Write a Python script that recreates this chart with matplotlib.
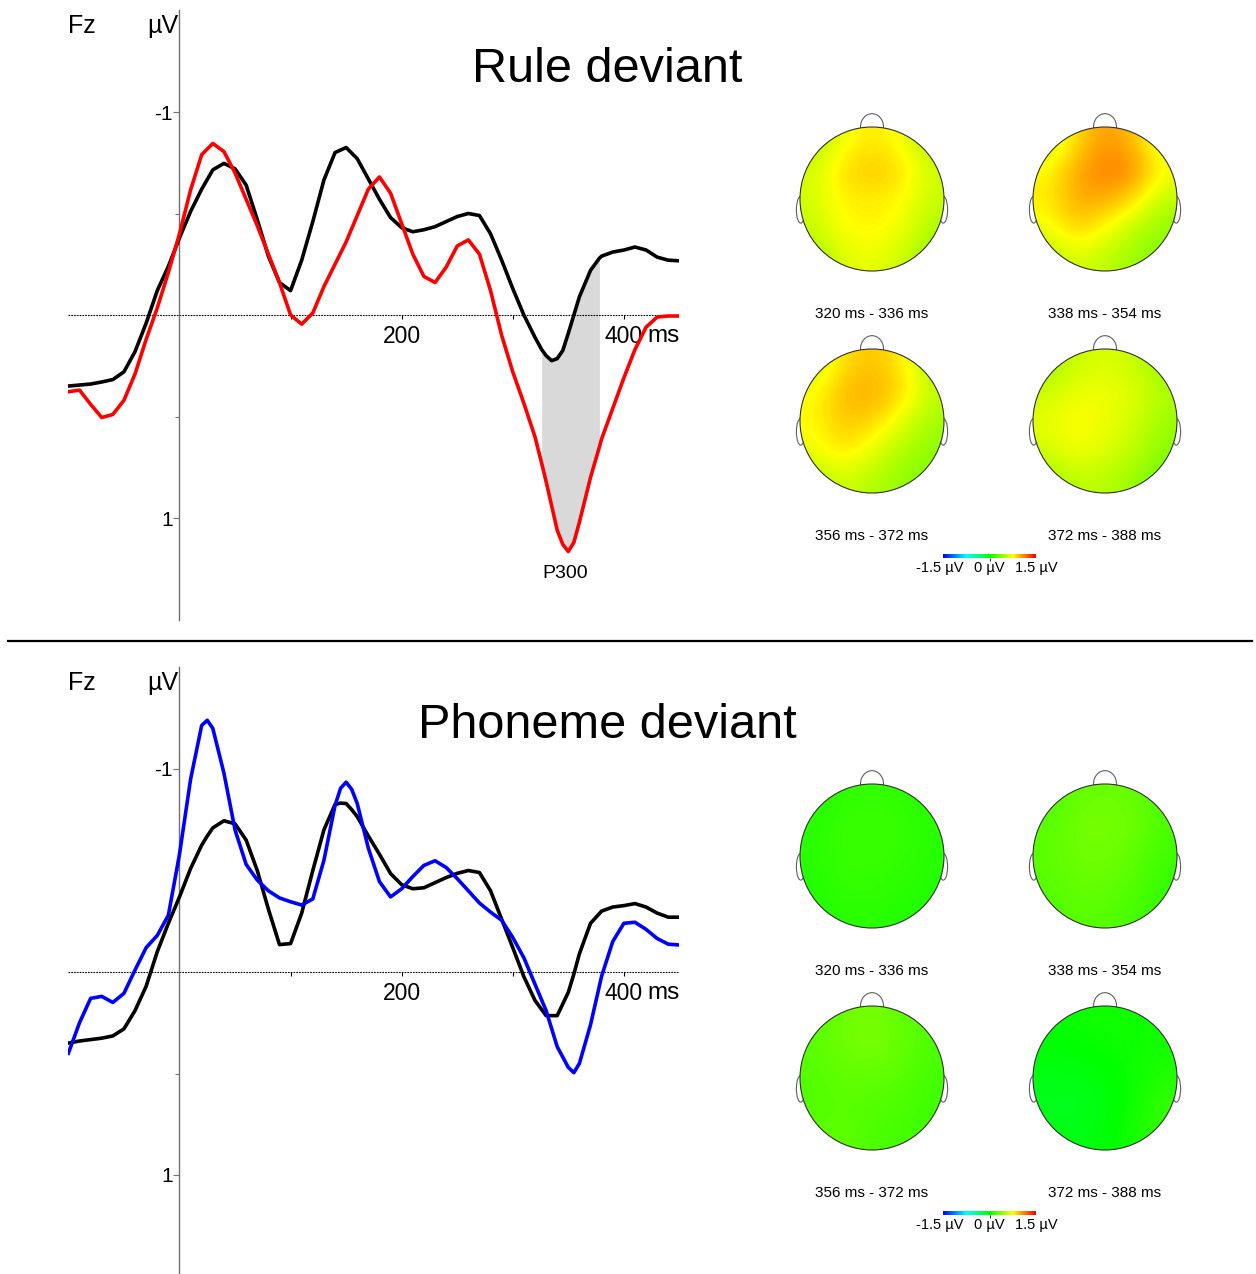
import numpy as np
import matplotlib
matplotlib.use('Agg')
import matplotlib.pyplot as plt
from matplotlib.colors import LinearSegmentedColormap, Normalize
from matplotlib.cm import ScalarMappable
from matplotlib.patches import Circle, Ellipse
from matplotlib.lines import Line2D

plt.rcParams['font.family'] = ['Liberation Sans', 'DejaVu Sans']

# ---- ERP data (ms, µV) ----
t_rule = [-100, -90, -80, -70, -60, -50, -40, -30, -20, -10, 0, 10, 20, 30, 40, 50,
          60, 70, 80, 90, 100, 110, 120, 130, 140, 150, 160, 170, 180, 190, 200,
          210, 220, 230, 240, 250, 260, 270, 280, 290, 300, 310, 320, 326, 330,
          335, 340, 345, 350, 355, 360, 370, 378, 380, 390, 400, 410, 420, 430,
          440, 450]
rule_standard = [0.35, 0.345, 0.34, 0.33, 0.318, 0.28, 0.18, 0.04, -0.12, -0.24,
                 -0.38, -0.51, -0.62, -0.715, -0.747, -0.72, -0.64, -0.47, -0.29,
                 -0.16, -0.12, -0.27, -0.46, -0.665, -0.80, -0.825, -0.77, -0.67,
                 -0.57, -0.48, -0.43, -0.41, -0.42, -0.435, -0.46, -0.485, -0.50,
                 -0.49, -0.40, -0.27, -0.13, 0.0, 0.11, 0.17, 0.20, 0.225, 0.215,
                 0.175, 0.09, 0.0, -0.09, -0.22, -0.28, -0.29, -0.31, -0.32,
                 -0.335, -0.32, -0.285, -0.27, -0.267]
rule_deviant = [0.378, 0.37, 0.44, 0.505, 0.49, 0.42, 0.29, 0.12, -0.035, -0.21,
                -0.40, -0.616, -0.79, -0.845, -0.805, -0.70, -0.57, -0.44, -0.30,
                -0.16, 0.0, 0.045, -0.01, -0.14, -0.25, -0.36, -0.49, -0.62, -0.68,
                -0.60, -0.45, -0.30, -0.19, -0.16, -0.235, -0.34, -0.37, -0.30,
                -0.12, 0.10, 0.28, 0.435, 0.60, 0.73, 0.82, 0.94, 1.06, 1.13, 1.165,
                1.12, 1.02, 0.80, 0.65, 0.61, 0.46, 0.31, 0.17, 0.06, 0.01, 0.005,
                0.005]

t_phon = [-100, -90, -80, -70, -60, -50, -40, -30, -20, -10, 0, 10, 20, 25, 30, 40,
          50, 60, 70, 80, 90, 100, 110, 120, 130, 140, 145, 150, 155, 160, 170,
          180, 190, 200, 210, 220, 230, 240, 250, 260, 270, 280, 290, 300, 310,
          320, 330, 340, 350, 355, 360, 370, 380, 390, 400, 410, 420, 430, 440, 450]
phon_standard = [0.35, 0.34, 0.333, 0.326, 0.315, 0.28, 0.19, 0.07, -0.10, -0.24,
                 -0.37, -0.51, -0.625, -0.67, -0.71, -0.745, -0.73, -0.65, -0.50,
                 -0.31, -0.135, -0.14, -0.29, -0.50, -0.70, -0.825, -0.832, -0.83,
                 -0.80, -0.765, -0.67, -0.58, -0.485, -0.43, -0.41, -0.415, -0.44,
                 -0.465, -0.486, -0.50, -0.49, -0.40, -0.26, -0.12, 0.023, 0.14,
                 0.215, 0.215, 0.10, 0.01, -0.09, -0.24, -0.30, -0.32, -0.327,
                 -0.337, -0.32, -0.29, -0.27, -0.27]
phon_deviant = [0.40, 0.25, 0.13, 0.12, 0.15, 0.105, -0.01, -0.12, -0.18, -0.28,
                -0.58, -0.95, -1.215, -1.24, -1.20, -0.98, -0.70, -0.53, -0.453,
                -0.40, -0.365, -0.346, -0.33, -0.36, -0.55, -0.82, -0.905, -0.935,
                -0.90, -0.83, -0.61, -0.445, -0.37, -0.41, -0.47, -0.525, -0.548,
                -0.515, -0.46, -0.40, -0.34, -0.295, -0.255, -0.17, -0.07, 0.06,
                0.19, 0.368, 0.47, 0.496, 0.45, 0.26, 0.02, -0.15, -0.24, -0.245,
                -0.21, -0.165, -0.137, -0.133]

p300_window = (326, 378)

# ---- topographic maps (µV, 5x5 grid, front row first) ----
topo_labels = ['320 ms - 336 ms', '338 ms - 354 ms', '356 ms - 372 ms', '372 ms - 388 ms']
rule_topos = [
    np.array([[0.50, 0.70, 0.82, 0.72, 0.50],
              [0.62, 0.86, 0.92, 0.86, 0.62],
              [0.62, 0.78, 0.80, 0.76, 0.58],
              [0.58, 0.76, 0.78, 0.72, 0.52],
              [0.45, 0.65, 0.70, 0.60, 0.42]]),
    np.array([[0.55, 0.85, 1.05, 0.95, 0.60],
              [0.75, 1.00, 1.15, 1.10, 0.75],
              [0.80, 1.00, 1.00, 0.85, 0.55],
              [0.70, 0.90, 0.75, 0.55, 0.42],
              [0.50, 0.65, 0.55, 0.45, 0.38]]),
    np.array([[0.55, 0.85, 0.92, 0.82, 0.50],
              [0.75, 0.95, 1.00, 0.88, 0.58],
              [0.75, 0.92, 0.88, 0.68, 0.48],
              [0.70, 0.85, 0.68, 0.52, 0.42],
              [0.50, 0.62, 0.52, 0.44, 0.36]]),
    np.array([[0.45, 0.60, 0.64, 0.60, 0.42],
              [0.60, 0.70, 0.70, 0.66, 0.52],
              [0.68, 0.76, 0.70, 0.62, 0.46],
              [0.62, 0.73, 0.66, 0.56, 0.40],
              [0.45, 0.56, 0.54, 0.44, 0.32]]),
]
phon_topos = [
    np.array([[0.10, 0.14, 0.15, 0.14, 0.10],
              [0.12, 0.16, 0.17, 0.16, 0.12],
              [0.12, 0.16, 0.16, 0.15, 0.11],
              [0.10, 0.15, 0.15, 0.13, 0.10],
              [0.08, 0.12, 0.12, 0.10, 0.08]]),
    np.array([[0.22, 0.30, 0.32, 0.30, 0.22],
              [0.26, 0.33, 0.35, 0.32, 0.22],
              [0.26, 0.32, 0.33, 0.28, 0.18],
              [0.25, 0.30, 0.30, 0.25, 0.15],
              [0.22, 0.26, 0.25, 0.20, 0.14]]),
    np.array([[0.25, 0.32, 0.35, 0.30, 0.22],
              [0.26, 0.33, 0.35, 0.30, 0.22],
              [0.24, 0.28, 0.28, 0.26, 0.20],
              [0.24, 0.26, 0.24, 0.22, 0.18],
              [0.26, 0.28, 0.22, 0.20, 0.18]]),
    np.array([[0.02, 0.04, 0.04, 0.05, 0.04],
              [-0.02, 0.00, 0.02, 0.04, 0.06],
              [-0.06, -0.06, -0.02, 0.03, 0.10],
              [-0.08, -0.09, -0.04, 0.04, 0.16],
              [-0.04, -0.06, -0.02, 0.06, 0.16]]),
]

W, H = 1256, 1274
fig = plt.figure(figsize=(W / 100, H / 100), dpi=100)


def fx(x):
    return x / W


def fy(y):
    return 1 - y / H


topo_cmap = LinearSegmentedColormap.from_list(
    'topo', [(0, '#0000ff'), (0.25, '#00ffff'), (0.5, '#00ff00'),
             (0.75, '#ffff00'), (1, '#ff0000')])
topo_norm = Normalize(-1.5, 1.5)


def erp_panel(top_px, t, std, dev, dev_color, title, shade=None, peak_label=None):
    zero_y = top_px + 305
    ax = fig.add_axes([fx(68.4), fy(zero_y + 304.5), 611 / W, 609 / H])
    ax.set_xlim(-100, 450)
    ax.set_ylim(1.5, -1.5)
    for s in ['top', 'right']:
        ax.spines[s].set_visible(False)
    ax.spines['left'].set_position(('data', 0))
    ax.spines['left'].set_color('#707070')
    ax.spines['left'].set_linewidth(1.0)
    ax.spines['bottom'].set_position(('data', 0))
    ax.spines['bottom'].set_visible(False)
    ax.axhline(0, color='black', lw=0.8, ls=(0, (1.5, 1)), zorder=1)

    ax.set_yticks([-1, 1])
    ax.set_yticklabels(['-1', '1'])
    ax.set_yticks([-0.5, 0.5], minor=True)
    ax.tick_params(axis='y', which='major', length=4, width=0.8, color='#707070',
                   labelsize=15, pad=1)
    ax.tick_params(axis='y', which='minor', length=3, width=0.8, color='#707070')
    ax.set_xticks([100, 200, 300, 400])
    ax.set_xticklabels(['', '200', '', '400'])
    ax.tick_params(axis='x', length=3, width=0.8, labelsize=16.5, pad=4)
    ax.annotate('ms', xy=(1, 0), xycoords=('axes fraction', 'data'),
                xytext=(0, -19.5), textcoords='offset points', ha='right',
                va='baseline', fontsize=17.5)

    if shade is not None:
        tt = np.array(t)
        mask = (tt >= shade[0]) & (tt <= shade[1])
        ax.fill_between(tt, std, dev, where=mask, color='#d9d9d9', lw=0, zorder=0)

    ax.plot(t, std, color='black', lw=2.6, zorder=3, solid_joinstyle='round')
    ax.plot(t, dev, color=dev_color, lw=2.6, zorder=4, solid_joinstyle='round')

    if peak_label is not None:
        ax.text(peak_label[0], peak_label[1], peak_label[2], ha='center',
                va='center', fontsize=14)

    fig.text(fx(68), fy(top_px + 16), 'Fz', ha='left', va='center', fontsize=18)
    fig.text(fx(178), fy(top_px + 16), 'µV', ha='right', va='center', fontsize=18)
    fig.text(fx(607), fy(top_px + 59), title, ha='center', va='center', fontsize=35)
    return ax


def head(cx, cy, grid):
    ax = fig.add_axes([fx(cx - 90), fy(cy + 90), 180 / W, 180 / H])
    ax.set_xlim(-1.25, 1.25)
    ax.set_ylim(-1.25, 1.25)
    ax.set_aspect('equal')
    ax.axis('off')
    for side in (-1, 1):
        ax.add_patch(Ellipse((side * 0.99, -0.15), 0.12, 0.37, facecolor='white',
                             edgecolor='#606060', lw=0.8, zorder=1))
    ax.add_patch(Ellipse((0, 1.0), 0.32, 0.37, facecolor='white',
                         edgecolor='#606060', lw=0.8, zorder=1))
    im = ax.imshow(grid, extent=(-1, 1, -1, 1), cmap=topo_cmap, norm=topo_norm,
                   interpolation='bicubic', origin='upper', zorder=2)
    clip = Circle((0, 0), 1.0, transform=ax.transData)
    im.set_clip_path(clip)
    ax.add_patch(Circle((0, 0), 1.0, facecolor='none', edgecolor='#303030',
                        lw=0.8, zorder=3))


def topo_block(top_px, grids):
    centers = [(872, top_px + 189), (1105, top_px + 189),
               (872, top_px + 411), (1105, top_px + 411)]
    label_y = [top_px + 304, top_px + 304, top_px + 526, top_px + 526]
    for (cx, cy), g, lab, ly in zip(centers, grids, topo_labels, label_y):
        head(cx, cy, g)
        fig.text(fx(cx), fy(ly), lab, ha='center', va='center', fontsize=11)
    # colour scale
    cax = fig.add_axes([fx(943), fy(top_px + 548), 93 / W, 4 / H])
    cb = fig.colorbar(ScalarMappable(norm=topo_norm, cmap=topo_cmap), cax=cax,
                      orientation='horizontal', ticks=[0])
    cb.outline.set_visible(False)
    cax.tick_params(length=2, width=0.6, labelbottom=False)
    for xpos, txt in [(940, '-1.5 µV'), (989, '0 µV'), (1036, '1.5 µV')]:
        fig.text(fx(xpos), fy(top_px + 558), txt, ha='center', va='center',
                 fontsize=10.5)


erp_panel(10, t_rule, rule_standard, rule_deviant, '#ff0000', 'Rule deviant',
          shade=p300_window, peak_label=(347, 1.275, 'P300'))
topo_block(10, rule_topos)

erp_panel(667, t_phon, phon_standard, phon_deviant, '#0000ff', 'Phoneme deviant')
topo_block(667, phon_topos)

fig.add_artist(Line2D([fx(8), fx(1252)], [fy(641), fy(641)], color='black', lw=1.6))

fig.savefig('out.png', dpi=100)
